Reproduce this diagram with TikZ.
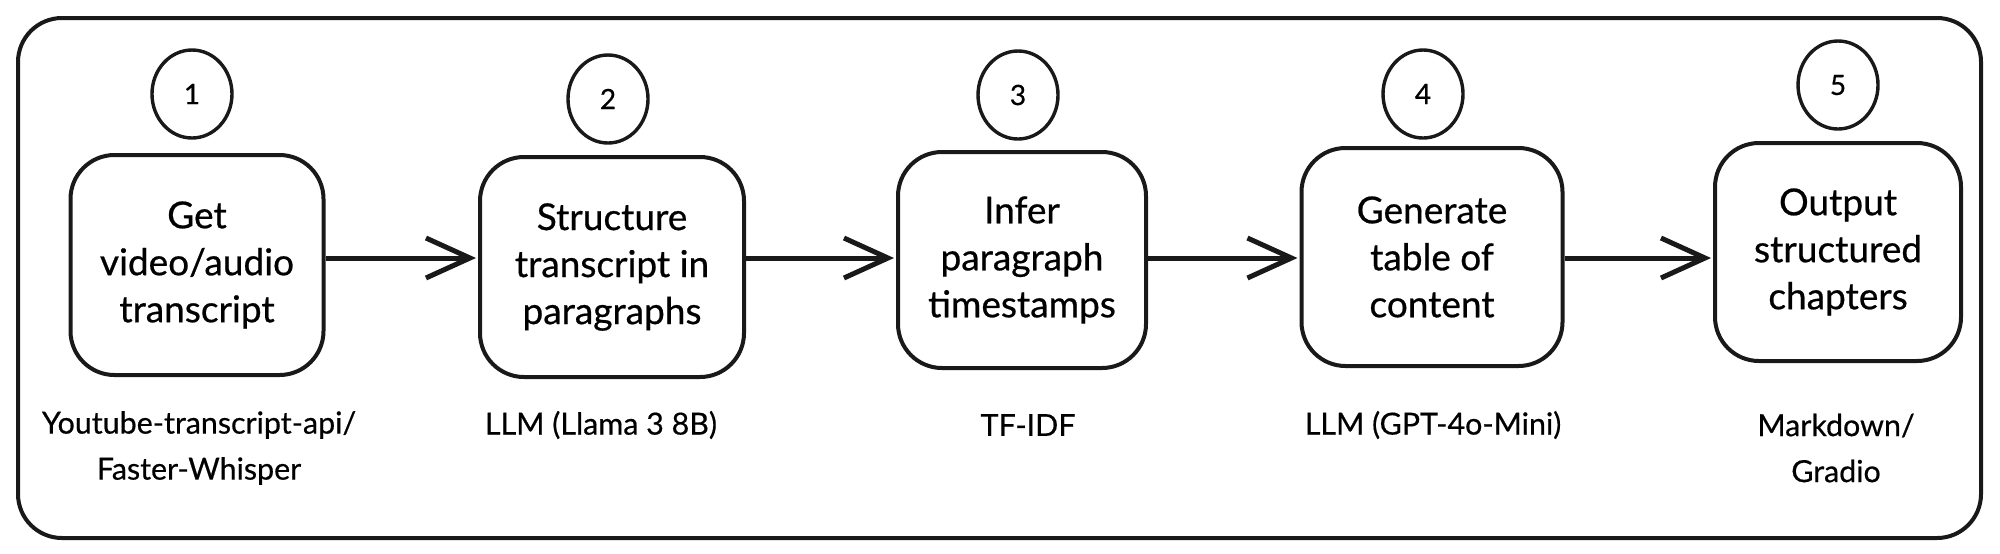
\documentclass[tikz,border=0pt]{standalone}
\usepackage{fontspec}
\setmainfont{Lato}
\newfontfamily\handfont[FakeBold=0.6]{Lato}
\newfontfamily\toolfont[FakeBold=0.5]{Lato}
\usetikzlibrary{arrows.meta,shapes.geometric}
\tikzset{
  frame/.style={draw=black!90, line width=2pt, rounded corners=22pt},
  stepbox/.style={draw=black!90, line width=2pt, rounded corners=22pt, align=center,
    font=\handfont\fontsize{18.5}{23.5}\selectfont, inner sep=0pt},
  numcirc/.style={draw=black!90, line width=1.7pt, ellipse, minimum width=40pt, minimum height=44pt,
    inner sep=0pt, font=\handfont\fontsize{14}{16}\selectfont},
  tool/.style={align=center, font=\toolfont\fontsize{15.2}{23}\selectfont, inner sep=0pt},
  arr/.style={draw=black!90, line width=2.5pt, -{Straight Barb[length=22pt,width=20pt,line width=2.5pt]}, shorten >=1pt},
}
\begin{document}
\begin{tikzpicture}[x=0.5pt,y=-0.5pt]
\useasboundingbox (0,0) rectangle (2000,553);
\node[frame, minimum width=981.5pt, minimum height=260pt, inner sep=0pt] (outer) at (999.5,278) {};

\node[numcirc] (c1) at (192,94) {1};
\node[numcirc] (c2) at (608,99) {2};
\node[numcirc] (c3) at (1018,95) {3};
\node[numcirc] (c4) at (1423,94) {4};
\node[numcirc] (c5) at (1838,85) {5};

\node[stepbox, minimum width=126.5pt, minimum height=110pt] (b1) at (197,265) {Get\\video/audio\\transcript};
\node[stepbox, minimum width=132pt, minimum height=110pt] (b2) at (612,267) {Structure\\transcript in\\paragraphs};
\node[stepbox, minimum width=124pt, minimum height=108pt] (b3) at (1022,260) {Infer\\paragraph\\timestamps};
\node[stepbox, minimum width=130.5pt, minimum height=109pt] (b4) at (1432,257) {Generate\\table of\\content};
\node[stepbox, minimum width=123pt, minimum height=109pt] (b5) at (1838,252) {Output\\structured\\chapters};

\coordinate (ay) at (0,258);
\draw[arr] (b1.east |- ay) -- (b2.west |- ay);
\draw[arr] (b2.east |- ay) -- (b3.west |- ay);
\draw[arr] (b3.east |- ay) -- (b4.west |- ay);
\draw[arr] (b4.east |- ay) -- (b5.west |- ay);

\node[tool] (t1) at (199,448) {Youtube-transcript-api/\\Faster-Whisper};
\node[tool] (t2) at (601,425) {LLM (Llama 3 8B)};
\node[tool] (t3) at (1028,425) {TF-IDF};
\node[tool] (t4) at (1433,425) {LLM (GPT-4o-Mini)};
\node[tool] (t5) at (1836,448) {Markdown/\\Gradio};
\end{tikzpicture}
\end{document}
